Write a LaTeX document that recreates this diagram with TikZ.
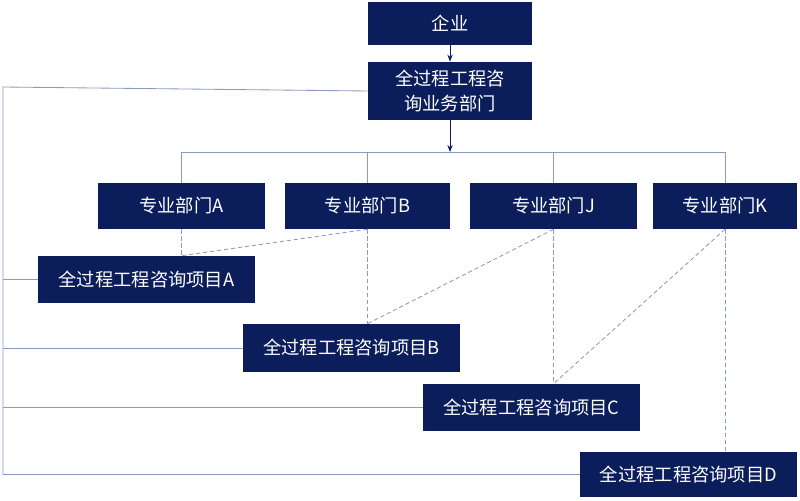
\documentclass[tikz,border=0pt]{standalone}
\usepackage{fontspec}
\setmainfont{Noto Sans CJK SC}
\usetikzlibrary{arrows.meta, positioning}
\definecolor{navy}{HTML}{0B1E5B}
\definecolor{lineblue}{HTML}{8A9BC0}
\tikzset{
  box/.style = {fill=navy, text=white, inner sep=0pt, align=center,
    font=\fontsize{13}{18}\selectfont},
  link/.style = {draw=lineblue, line width=0.6pt},
  dot/.style = {draw=lineblue, line width=0.6pt, densely dashed},
  arr/.style = {draw=navy, line width=0.6pt, -{Stealth[length=5pt]}}
}
\begin{document}
\begin{tikzpicture}[x=0.025cm, y=-0.025cm]
	\useasboundingbox (0,0) rectangle (800,500);
	\node[box, minimum width=4.1cm, minimum height=1.075cm] (qiye) at (450,23.5) {企业};
	\node[box, minimum width=4.1cm, minimum height=1.45cm] (bumen) at (450,91) {全过程工程咨\\询业务部门};
	\node[box, minimum width=4.175cm, minimum height=1.15cm] (dA) at (181.5,206) {专业部门A};
	\node[box, minimum width=4.125cm, minimum height=1.15cm] (dB) at (367.5,206) {专业部门B};
	\node[box, minimum width=4.175cm, minimum height=1.15cm] (dJ) at (553.5,206) {专业部门J};
	\node[box, minimum width=3.6cm, minimum height=1.15cm] (dK) at (725,206) {专业部门K};
	\node[box, minimum width=5.425cm, minimum height=1.175cm] (pA) at (146.5,279.5) {全过程工程咨询项目A};
	\node[box, minimum width=5.425cm, minimum height=1.2cm] (pB) at (351.5,348) {全过程工程咨询项目B};
	\node[box, minimum width=5.425cm, minimum height=1.175cm] (pC) at (531.5,407.5) {全过程工程咨询项目C};
	\node[box, minimum width=5.425cm, minimum height=1.125cm] (pD) at (688.5,474.5) {全过程工程咨询项目D};
	\coordinate (bus) at (450,152);
	\coordinate (corner) at (3,87);

	\draw[arr] (qiye) -- (bumen);
	\draw[arr] (bumen) -- (bus);
	\draw[link] (dA.north |- bus) -- (dK.north |- bus);
	\foreach \d in {dA, dB, dJ, dK}
		\draw[link] (\d.north |- bus) -- (\d.north);
	\draw[link] (bumen.west) -- (corner) -- (corner |- pD.west);
	\foreach \p in {pA, pB, pC, pD}
		\draw[link] (corner |- \p.west) -- (\p.west);

	\draw[dot] (dA.south) -- (pA.north -| dA.south);
	\draw[dot] (dB.south) -- (pA.north -| dA.south);
	\draw[dot] (dB.south) -- (pB.north -| dB.south);
	\draw[dot] (dJ.south) -- (pB.north -| dB.south);
	\draw[dot] (dJ.south) -- (pC.north -| dJ.south);
	\draw[dot] (dK.south) -- (pC.north -| dJ.south);
	\draw[dot] (dK.south) -- (pD.north -| dK.south);
\end{tikzpicture}
\end{document}
